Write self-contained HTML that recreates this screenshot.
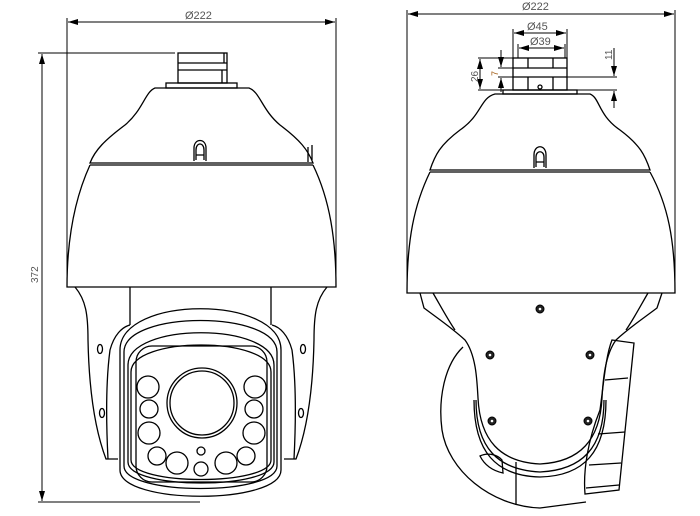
<!DOCTYPE html>
<html><head><style>
html,body{margin:0;padding:0;background:#fff;}
svg{display:block;}
text{font-family:"Liberation Sans",sans-serif;fill:#555;}
</style></head><body>
<svg width="700" height="516" viewBox="0 0 700 516" xmlns="http://www.w3.org/2000/svg">
<defs>
<marker id="a" markerWidth="10" markerHeight="6" refX="10" refY="3" orient="auto-start-reverse" markerUnits="userSpaceOnUse"><path d="M0,0 L10,3 L0,6 z" fill="#000"/></marker>
</defs>
<g fill="none" stroke="#000" stroke-width="1">
<line x1="67" y1="18" x2="67" y2="287"/><line x1="336" y1="18" x2="336" y2="287"/>
<line x1="68" y1="22" x2="335" y2="22" marker-start="url(#a)" marker-end="url(#a)"/>
<line x1="38" y1="53" x2="175" y2="53"/><line x1="38" y1="502" x2="200" y2="502"/>
<line x1="42" y1="54" x2="42" y2="501" marker-start="url(#a)" marker-end="url(#a)"/>
</g>
<text x="185" y="19" font-size="11">Ø222</text>
<text x="0" y="0" font-size="10" transform="translate(38,283) rotate(-90)">372</text>

<g fill="none" stroke="#000" stroke-width="1.3">
<rect x="178" y="53" width="49" height="30"/>
<line x1="178" y1="63" x2="227" y2="63"/><line x1="178" y1="70" x2="227" y2="70"/>
<path d="M224 53 V63 M222 70 V83"/>
<rect x="166" y="83" width="71" height="5"/>
<path d="M155 88 H249 C260 92 262 110 280 125 C300 140 308 150 313 163 H90 C95 150 105 140 125 125 C143 110 145 92 155 88 Z"/>
<line x1="90" y1="165" x2="313" y2="165"/>
<path d="M308 162 V147 M312 160 V145"/>
<path d="M194 161 V148 C194 138 206 138 206 148 V161 M196 160 V150 C196 142 204 142 204 150 V160 M196 155 H204"/>
<path d="M90 165 C74 200 67 240 67 287 H336 C336 240 330 200 313 165"/>
<path d="M75 287 C86 300 88 315 88 340 C89 390 95 430 106 459 H118"/>
<path d="M327 287 C316 300 314 315 314 340 C313 390 307 430 296 459 H284"/>
<path d="M108 459 C106 420 106 380 110 350 C114 335 122 327 130 325"/>
<path d="M294 459 C296 420 296 380 292 350 C288 335 280 327 272 325"/>
<path d="M130 287 V325 M271 287 V325"/>
<path d="M120 350 C120 295 281 295 281 350 V470 C281 505 120 505 120 470 Z"/>
<path d="M124 352 C124 310 277 310 277 352 V466 C277 496 124 496 124 466 Z"/>
<path d="M128 365 C128 322 274 322 274 365 V462 C274 490 128 490 128 462 Z"/>
<path d="M131 372 C131 336 271 336 271 372 V460 C271 486 131 486 131 460 Z"/>
<rect x="136" y="346" width="131" height="136" rx="16"/>
<circle cx="202" cy="403" r="35"/><circle cx="202" cy="403" r="32"/>
<circle cx="148" cy="387" r="11"/><circle cx="149" cy="409" r="9"/><circle cx="149" cy="433" r="11"/>
<circle cx="157" cy="456" r="9"/><circle cx="177" cy="463" r="11"/>
<circle cx="255" cy="387" r="11"/><circle cx="254" cy="409" r="9"/><circle cx="254" cy="433" r="11"/>
<circle cx="246" cy="456" r="9"/><circle cx="226" cy="463" r="11"/>
<circle cx="201" cy="451" r="4"/><circle cx="201" cy="469" r="7"/>
<ellipse cx="100" cy="349" rx="2.5" ry="4.5"/><ellipse cx="303" cy="349" rx="2.5" ry="4.5"/>
<ellipse cx="102" cy="413" rx="2.5" ry="4.5"/><ellipse cx="301" cy="413" rx="2.5" ry="4.5"/>
</g>

<g fill="none" stroke="#000" stroke-width="1">
<line x1="407" y1="10" x2="407" y2="293"/><line x1="675" y1="10" x2="675" y2="293"/>
<line x1="408" y1="14" x2="674" y2="14" marker-start="url(#a)" marker-end="url(#a)"/>
<line x1="513" y1="29" x2="513" y2="58"/><line x1="567" y1="29" x2="567" y2="58"/>
<line x1="514" y1="33" x2="566" y2="33" marker-start="url(#a)" marker-end="url(#a)"/>
<line x1="518" y1="44" x2="518" y2="58"/><line x1="565" y1="44" x2="565" y2="58"/>
<line x1="519" y1="48" x2="564" y2="48" marker-start="url(#a)" marker-end="url(#a)"/>
<line x1="478" y1="58" x2="513" y2="58"/><line x1="478" y1="90" x2="503" y2="90"/>
<line x1="480" y1="59" x2="480" y2="89" marker-start="url(#a)" marker-end="url(#a)"/>
<line x1="498" y1="68" x2="513" y2="68"/><line x1="498" y1="77" x2="513" y2="77"/>
<line x1="501" y1="50" x2="501" y2="67" marker-end="url(#a)"/>
<line x1="501" y1="92" x2="501" y2="78" marker-end="url(#a)"/>
<line x1="567" y1="77" x2="617" y2="77"/><line x1="577" y1="90" x2="617" y2="90"/>
<line x1="614" y1="48" x2="614" y2="76" marker-end="url(#a)"/>
<line x1="614" y1="108" x2="614" y2="91" marker-end="url(#a)"/>
</g>
<text x="522" y="10" font-size="11">Ø222</text>
<text x="527" y="30" font-size="11">Ø45</text>
<text x="530" y="45" font-size="11">Ø39</text>
<text font-size="10" transform="translate(478,82) rotate(-90)">26</text>
<text font-size="9" transform="translate(498,76) rotate(-90)" style="fill:#a05a10">7</text>
<text font-size="10" transform="translate(612,60) rotate(-90)">11</text>

<g fill="none" stroke="#000" stroke-width="1.3">
<rect x="513" y="58" width="54" height="32"/>
<line x1="513" y1="68" x2="567" y2="68"/><line x1="513" y1="77" x2="567" y2="77"/>
<path d="M528 58 V68 M553 58 V68 M528 77 V90 M553 77 V90"/>
<circle cx="540" cy="87" r="2"/>
<rect x="503" y="90" width="74" height="4"/>
<path d="M495 94 H590 C600 98 598 115 620 130 C640 145 645 155 650 170 H430 C435 155 440 145 460 130 C482 115 480 98 495 94 Z"/>
<line x1="430" y1="172" x2="650" y2="172"/>
<path d="M534 168 V155 C534 144 546 144 546 155 V168 M536 167 V157 C536 150 544 150 544 157 V167 M536 162 H544"/>
<path d="M430 172 C414 205 407 240 407 293 H675 C675 240 668 205 650 172"/>
<path d="M420 293 L424 308 C440 320 452 328 465 340 C476 355 477 380 478 398"/>
<path d="M433 293 C440 305 448 320 455 330"/>
<path d="M662 293 L657 308 C641 320 629 328 616 340 C605 355 603 380 602 398"/>
<path d="M648 293 C641 305 633 320 626 330"/>
<path d="M478 398 C480 440 500 462 540 464 C580 462 600 440 602 398"/>
<path d="M476 400 C476 448 498 470 540 472 C582 470 604 448 604 400"/>
<path d="M474 400 C474 452 496 476 540 477 C584 476 606 452 606 400"/>
<path d="M463 347 C444 365 438 400 442 430 C448 470 490 506 540 508 L586 502"/>
<path d="M480 456 C488 452 498 455 502 460 L503 473 C494 471 485 466 480 456 Z"/>
<path d="M516 462 V505"/>
<path d="M612 340 L634 343 L619 490 L585 494 C583 470 588 440 600 410 C604 380 606 355 612 340 Z"/>
<path d="M605 380 L628 378 M598 434 L625 432 M589 465 L621 463 M586 488 L619 485"/>
</g>
<g fill="#222" stroke="#000" stroke-width="1">
<circle cx="540" cy="309" r="4"/><circle cx="490" cy="355" r="4"/><circle cx="590" cy="355" r="4"/>
<circle cx="492" cy="421" r="4"/><circle cx="588" cy="421" r="4"/>
</g>
<g fill="#fff"><circle cx="540" cy="309" r="1.3"/><circle cx="490" cy="355" r="1.3"/><circle cx="590" cy="355" r="1.3"/><circle cx="492" cy="421" r="1.3"/><circle cx="588" cy="421" r="1.3"/></g>
</svg>
</body></html>
